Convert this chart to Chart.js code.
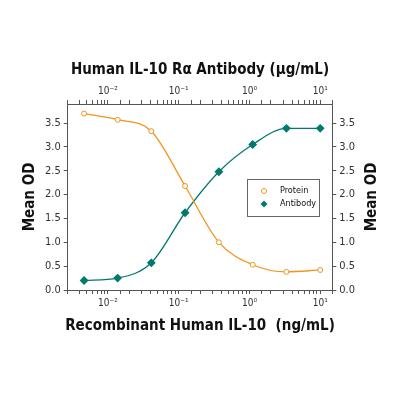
<!DOCTYPE html>
<html>
<head>
<meta charset="utf-8">
<script src="https://cdn.jsdelivr.net/npm/chart.js@4"></script>
<style>
  body { margin: 0; background: #fff; }
  #wrap { width: 400px; height: 400px; }
</style>
</head>
<body>
<div id="wrap"><canvas id="chart"></canvas></div>
<script>
// ===== DATA =====
const concentrations = [0.0046, 0.0137, 0.041, 0.123, 0.37, 1.11, 3.33, 10];
const protein = [3.70, 3.57, 3.33, 2.18, 1.00, 0.53, 0.38, 0.42];
const antibody = [0.20, 0.25, 0.57, 1.62, 2.48, 3.05, 3.39, 3.39];
const decadeLabels = { "0.01": "10⁻²", "0.1": "10⁻¹", "1": "10⁰", "10": "10¹" };
const yTicks = [0, 0.5, 1, 1.5, 2, 2.5, 3, 3.5];

const ORANGE = "#f3941e";
const TEAL = "#007a6e";
const FONT = "'Liberation Sans Narrow', 'DejaVu Sans Condensed', sans-serif";

function decadeTick(value) {
    const key = String(Number(value.toPrecision(3)));
    return decadeLabels[key] || "";
}

const xAxis = (pos) => ({
    type: "logarithmic",
    position: pos,
    min: 0.0027,
    max: 14.8,
    grid: { drawOnChartArea: false, color: "#555", tickLength: 4 },
    border: { color: "#555" },
    ticks: {
        autoSkip: false,
        maxRotation: 0,
        color: "#333",
        font: { family: FONT, size: 10 },
        callback: decadeTick
    }
});

const yAxis = (pos) => ({
    position: pos,
    min: 0,
    max: 3.9,
    afterBuildTicks: (s) => { s.ticks = yTicks.map(v => ({ value: v })); },
    grid: { drawOnChartArea: false, color: "#555", tickLength: 4 },
    border: { color: "#555" },
    ticks: {
        color: "#333",
        font: { family: FONT, size: 11 },
        callback: (v) => v.toFixed(1)
    }
});

// ===== LEGEND + TITLES =====
const overlay = {
    id: "overlay",
    afterDraw(chart) {
        const ctx = chart.ctx;
        const cy = (chart.chartArea.top + chart.chartArea.bottom) / 2;
        ctx.save();
        ctx.fillStyle = "#111";
        ctx.font = "bold 15px " + FONT;
        ctx.textAlign = "center";
        ctx.textBaseline = "middle";
        ctx.fillText("Human IL-10 Rα Antibody (μg/mL)", 200, 70);
        ctx.fillText("Recombinant Human IL-10  (ng/mL)", 200, 326);
        ctx.translate(30, cy);
        ctx.rotate(-Math.PI / 2);
        ctx.fillText("Mean OD", 0, 0);
        ctx.restore();
        ctx.save();
        ctx.fillStyle = "#111";
        ctx.font = "bold 15px " + FONT;
        ctx.textAlign = "center";
        ctx.textBaseline = "middle";
        ctx.translate(372, cy);
        ctx.rotate(-Math.PI / 2);
        ctx.fillText("Mean OD", 0, 0);
        ctx.restore();

        // legend box
        ctx.save();
        ctx.strokeStyle = "#666";
        ctx.lineWidth = 1;
        ctx.strokeRect(247.5, 179.5, 72, 37);
        ctx.font = "9px " + FONT;
        ctx.fillStyle = "#111";
        ctx.textBaseline = "middle";
        ctx.fillText("Protein", 280, 191);
        ctx.fillText("Antibody", 280, 204);
        ctx.strokeStyle = ORANGE;
        ctx.beginPath();
        ctx.arc(264, 191, 2.5, 0, Math.PI * 2);
        ctx.stroke();
        ctx.fillStyle = TEAL;
        ctx.beginPath();
        ctx.moveTo(264, 200.5); ctx.lineTo(267.5, 204); ctx.lineTo(264, 207.5); ctx.lineTo(260.5, 204);
        ctx.closePath();
        ctx.fill();
        ctx.restore();
    }
};

new Chart(document.getElementById("chart"), {
    type: "line",
    data: {
        datasets: [
            {
                label: "Protein",
                data: concentrations.map((c, i) => ({ x: c, y: protein[i] })),
                borderColor: ORANGE,
                borderWidth: 1.3,
                pointStyle: "circle",
                pointRadius: 2.5,
                pointBackgroundColor: "#fff",
                pointBorderColor: ORANGE,
                pointBorderWidth: 1,
                cubicInterpolationMode: "monotone"
            },
            {
                label: "Antibody",
                data: concentrations.map((c, i) => ({ x: c, y: antibody[i] })),
                borderColor: TEAL,
                borderWidth: 1.3,
                pointStyle: "rectRot",
                pointRadius: 3.5,
                pointBackgroundColor: TEAL,
                pointBorderColor: TEAL,
                cubicInterpolationMode: "monotone"
            }
        ]
    },
    options: {
        responsive: true,
        maintainAspectRatio: false,
        animation: false,
        layout: { padding: { top: 82, bottom: 88, left: 42, right: 42 } },
        plugins: { legend: { display: false }, tooltip: { enabled: false } },
        scales: {
            x: xAxis("bottom"),
            x2: xAxis("top"),
            y: yAxis("left"),
            y2: yAxis("right")
        }
    },
    plugins: [overlay]
});
</script>
</body>
</html>
